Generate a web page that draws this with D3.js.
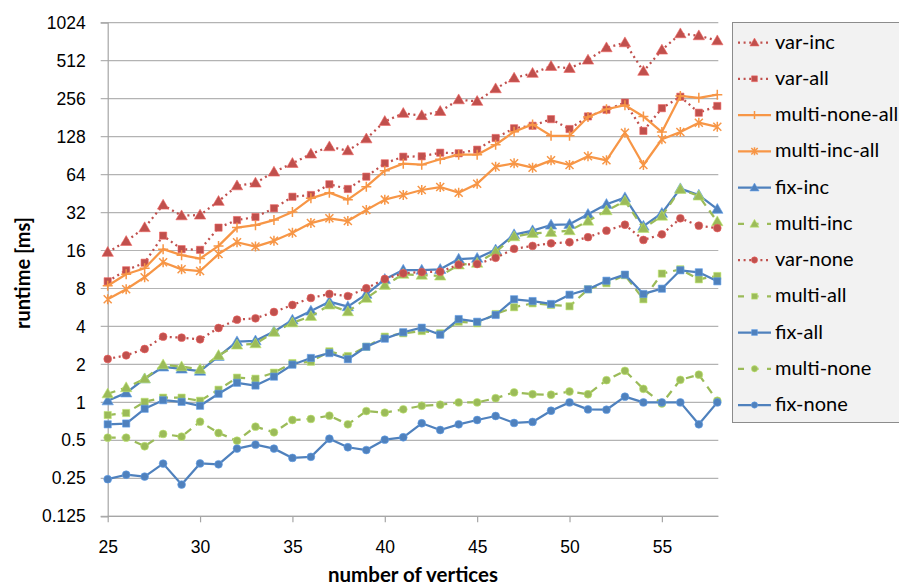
<!DOCTYPE html>
<html>
<head>
<meta charset="utf-8">
<script src="https://cdn.jsdelivr.net/npm/d3@7"></script>
<style>
  body { margin: 0; background: #fff; }
  svg { display: block; font-family: Lato, "Open Sans", sans-serif; }
</style>
</head>
<body>
<svg id="chart" width="899" height="585"></svg>
<script>
// vertex counts on the x axis
const vertices = [25, 26, 27, 28, 29, 30, 31, 32, 33, 34, 35, 36, 37, 38, 39, 40, 41,
    42, 43, 44, 45, 46, 47, 48, 49, 50, 51, 52, 53, 54, 55, 56, 57, 58];
const yTicks = [0.125, 0.25, 0.5, 1, 2, 4, 8, 16, 32, 64, 128, 256, 512, 1024];
const xTicks = [25, 30, 35, 40, 45, 50, 55];

// runtimes in ms, one array per series
const varInc = [15.5, 18.9, 24.3, 36.7, 30.2, 30.6, 39.3, 52.2, 54.9, 67.1, 78.6, 93.2, 106.5, 99,
    123, 169, 196, 188, 203, 251, 244, 307, 373, 407, 462, 445, 518, 649, 711, 422, 622, 838, 808, 737];
const varAll = [9.12, 11.15, 12.8, 21.0, 16.4, 16.2, 24.3, 27.9, 29.5, 34.6, 42.7, 44.1, 53.6, 49.2,
    61.6, 78.6, 88.7, 89.3, 95.4, 94.4, 100.8, 124.8, 149, 156, 176, 147, 185, 209, 238, 142, 215, 265, 198, 224];
const multiNoneAll = [8.41, 10.37, 11.57, 16.4, 14.7, 13.8, 17.4, 24.3, 25.4, 27.9, 32.3, 41.5, 46, 40.5,
    51.3, 68.7, 78.1, 76.6, 84.6, 92, 92, 110.4, 140, 160, 130, 130, 183, 211, 227, 185, 139, 269, 260, 275];
const multiIncAll = [6.57, 7.88, 9.81, 12.9, 11.35, 11.0, 15.0, 18.6, 17.2, 19.1, 22.1, 26.4, 28.8, 27.4,
    33.5, 40.5, 44.1, 48.3, 51, 46, 54.2, 73.9, 78.6, 72.6, 83, 76.2, 89.3, 83, 137.5, 76.2, 122, 139, 165, 153];
const fixInc = [1.03, 1.19, 1.54, 1.91, 1.84, 1.77, 2.32, 3.03, 3.08, 3.64, 4.5, 5.3, 6.29, 5.74,
    7.2, 9.46, 11.2, 11.2, 11.35, 13.7, 13.9, 16.2, 21.4, 23, 25.5, 25.8, 31, 37.2, 42, 25, 31.6, 49.5, 44, 34];
const multiInc = [1.17, 1.31, 1.54, 1.99, 1.92, 1.83, 2.36, 2.85, 2.92, 3.6, 4.28, 4.81, 5.92, 5.24,
    6.69, 8.48, 10.37, 10.2, 10.05, 12.3, 12.7, 15.6, 20.6, 21.9, 22.3, 23, 27.4, 33.1, 39.5, 24, 30, 48.9, 43.3, 27.1];
const varNone = [2.21, 2.36, 2.65, 3.32, 3.26, 3.16, 3.89, 4.53, 4.64, 5.21, 5.92, 6.73, 7.24, 6.97,
    8.03, 9.51, 10.56, 10.8, 10.87, 12.35, 12.5, 14.0, 16.5, 17.4, 18.25, 18.6, 20.4, 23, 25.6, 19.4, 21.5, 28.8, 25.2, 24.1];
const multiAll = [0.794, 0.824, 1.01, 1.09, 1.09, 1.03, 1.26, 1.57, 1.54, 1.72, 2.05, 2.1, 2.54, 2.33,
    2.76, 3.32, 3.53, 3.68, 3.53, 4.36, 4.24, 5.02, 5.68, 6.1, 5.92, 5.78, 7.88, 8.8, 10.2, 6.57, 10.5, 11.35, 9.46, 10.05];
const fixAll = [0.67, 0.68, 0.89, 1.04, 1.01, 0.94, 1.17, 1.43, 1.36, 1.6, 1.99, 2.25, 2.46, 2.2,
    2.76, 3.2, 3.6, 3.91, 3.44, 4.58, 4.36, 4.93, 6.57, 6.36, 6.03, 7.14, 7.88, 9.22, 10.3, 7.24, 7.97, 11.15, 10.75, 9.12];
const multiNone = [0.525, 0.525, 0.449, 0.562, 0.535, 0.703, 0.572, 0.497, 0.642, 0.579, 0.725, 0.739, 0.785, 0.67,
    0.854, 0.829, 0.881, 0.94, 0.958, 1.0, 1.0, 1.08, 1.2, 1.16, 1.15, 1.22, 1.16, 1.5, 1.78, 1.28, 0.98, 1.51, 1.66, 1.03];
const fixNone = [0.246, 0.267, 0.258, 0.327, 0.223, 0.328, 0.323, 0.43, 0.462, 0.43, 0.363, 0.37, 0.515, 0.441,
    0.419, 0.506, 0.529, 0.683, 0.604, 0.67, 0.725, 0.78, 0.687, 0.70, 0.859, 1.0, 0.88, 0.875, 1.11, 1.0, 1.0, 1.0, 0.67, 1.0];

const RED = '#c0504d', ORANGE = '#f79646', BLUE = '#4f81bd', GREEN = '#9bbb59';
const DOT = '2,3.6', DASH = '8,6';

// legend order == drawing order
const series = [
    { name: 'var-inc', values: varInc, color: RED, dash: DOT, marker: 'triangle' },
    { name: 'var-all', values: varAll, color: RED, dash: DOT, marker: 'square' },
    { name: 'multi-none-all', values: multiNoneAll, color: ORANGE, dash: null, marker: 'plus' },
    { name: 'multi-inc-all', values: multiIncAll, color: ORANGE, dash: null, marker: 'star' },
    { name: 'fix-inc', values: fixInc, color: BLUE, dash: null, marker: 'triangle' },
    { name: 'multi-inc', values: multiInc, color: GREEN, dash: DASH, marker: 'triangle' },
    { name: 'var-none', values: varNone, color: RED, dash: DOT, marker: 'circle' },
    { name: 'multi-all', values: multiAll, color: GREEN, dash: DASH, marker: 'square' },
    { name: 'fix-all', values: fixAll, color: BLUE, dash: null, marker: 'square' },
    { name: 'multi-none', values: multiNone, color: GREEN, dash: DASH, marker: 'circle' },
    { name: 'fix-none', values: fixNone, color: BLUE, dash: null, marker: 'circle' }
];

const svg = d3.select('#chart');
const plot = { left: 107.7, right: 717.3, top: 22.7, bottom: 516.3 };

const x = d3.scaleLinear().domain([25, 58]).range([plot.left, plot.right]);
const y = d3.scaleLog().base(2).domain([0.125, 1024]).range([plot.bottom, plot.top]);

// horizontal grid lines
svg.append('g')
    .selectAll('line')
    .data(yTicks)
    .join('line')
    .attr('x1', plot.left - 7)
    .attr('x2', plot.right + 1)
    .attr('y1', d => y(d))
    .attr('y2', d => y(d))
    .attr('stroke', '#b3b3b3')
    .attr('stroke-width', 1.2);

// y axis
const yAxis = svg.append('g')
    .attr('transform', `translate(${plot.left},0)`)
    .call(d3.axisLeft(y).tickValues(yTicks).tickFormat(d => String(d)).tickSize(7).tickPadding(15));
yAxis.select('.domain').attr('stroke', '#a6a6a6').attr('stroke-width', 1.2);
yAxis.selectAll('.tick line').remove();
yAxis.selectAll('text').style('font-size', '17.5px').attr('fill', '#000');

// x axis
const xAxis = svg.append('g')
    .attr('transform', `translate(0,${plot.bottom})`)
    .call(d3.axisBottom(x).tickValues(xTicks).tickSize(6).tickPadding(18));
xAxis.select('.domain').attr('stroke', '#a6a6a6').attr('stroke-width', 1.2)
    .attr('d', `M${plot.left},0H${plot.right + 1}`);
xAxis.selectAll('.tick line').attr('stroke', '#a6a6a6').attr('stroke-width', 1.2);
xAxis.selectAll('text').style('font-size', '17.5px').attr('fill', '#000');

// axis titles
svg.append('text')
    .attr('transform', 'translate(30,273) rotate(-90)')
    .attr('text-anchor', 'middle')
    .style('font-size', '20px')
    .style('font-weight', 'bold')
    .text('runtime [ms]');
svg.append('text')
    .attr('x', 413)
    .attr('y', 582)
    .attr('text-anchor', 'middle')
    .style('font-size', '20.5px')
    .style('font-weight', 'bold')
    .text('number of vertices');

// marker shapes
function drawMarker(sel, kind, color, scale) {
    const k = scale || 1;
    if (kind === 'plus') {
        sel.append('path')
            .attr('d', `M${-5 * k},0H${5 * k}M0,${-5 * k}V${5 * k}`)
            .attr('stroke', color).attr('stroke-width', 1.5).attr('fill', 'none');
    } else if (kind === 'star') {
        sel.append('path')
            .attr('d', `M${-4 * k},${-4 * k}L${4 * k},${4 * k}M${-4 * k},${4 * k}L${4 * k},${-4 * k}M0,${-5 * k}V${5 * k}`)
            .attr('stroke', color).attr('stroke-width', 1.5).attr('fill', 'none');
    } else {
        const type = { triangle: d3.symbolTriangle, square: d3.symbolSquare, circle: d3.symbolCircle }[kind];
        const size = { triangle: 56, square: 52, circle: 48 }[kind] * k * k;
        sel.append('path')
            .attr('d', d3.symbol().type(type).size(size)())
            .attr('transform', kind === 'triangle' ? 'translate(0,0.8)' : null)
            .attr('fill', color)
            .attr('stroke', d3.color(color).brighter(0.6))
            .attr('stroke-width', 0.6);
    }
}

const line = d3.line()
    .x((d, i) => x(vertices[i]))
    .y(d => y(d));

series.forEach(s => {
    const g = svg.append('g');
    g.append('path')
        .attr('d', line(s.values))
        .attr('fill', 'none')
        .attr('stroke', s.color)
        .attr('stroke-width', 2.25)
        .attr('stroke-linejoin', 'round')
        .attr('stroke-dasharray', s.dash);
    g.selectAll('g.pt')
        .data(s.values)
        .join('g')
        .attr('class', 'pt')
        .attr('transform', (d, i) => `translate(${x(vertices[i])},${y(d)})`)
        .each(function () { drawMarker(d3.select(this), s.marker, s.color); });
});

// legend
const legend = svg.append('g');
legend.append('rect')
    .attr('x', 732.5)
    .attr('y', 22.5)
    .attr('width', 200)
    .attr('height', 400)
    .attr('fill', '#f2f2f2')
    .attr('stroke', '#8c8c8c');
const item = legend.selectAll('g.item')
    .data(series)
    .join('g')
    .attr('class', 'item')
    .attr('transform', (d, i) => `translate(0,${42.5 + i * 36.25})`);
item.append('line')
    .attr('x1', 738).attr('x2', 771)
    .attr('stroke', d => d.color)
    .attr('stroke-width', 2.25)
    .attr('stroke-dasharray', d => d.dash === DASH ? '6,8.5' : d.dash);
item.each(function (d) {
    const m = d3.select(this).append('g').attr('transform', 'translate(754.5,0)');
    drawMarker(m, d.marker, d.color, 0.8);
});
item.append('text')
    .attr('x', 775)
    .attr('dy', '0.3em')
    .style('font-size', '20px')
    .text(d => d.name);
</script>
</body>
</html>
